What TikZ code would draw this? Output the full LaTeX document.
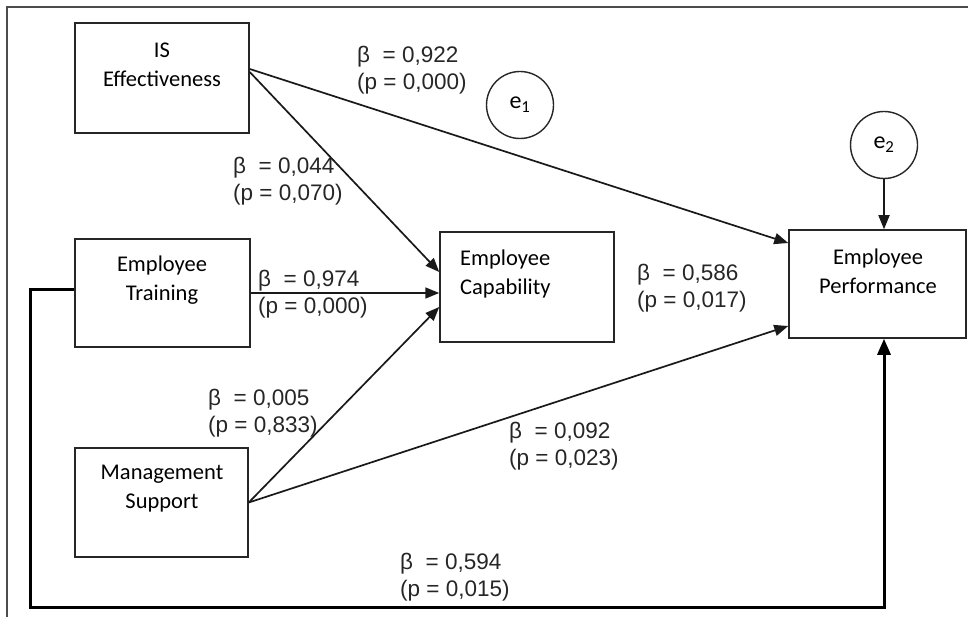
\documentclass[tikz,border=0pt]{standalone}
\usepackage{fontspec}
\setmainfont{Liberation Sans}
\newfontfamily\boxfont{Carlito}
\usetikzlibrary{arrows.meta,calc}
\begin{document}
\begin{tikzpicture}[x=1pt,y=-1pt,
  box/.style={draw=black!85,line width=1.5pt,rectangle,inner sep=0pt},
  boxtext/.style={font=\boxfont\fontsize{22.5}{29}\selectfont,align=center,inner sep=0pt,text=black},
  lbl/.style={font=\fontsize{22.5}{27}\selectfont,align=left,inner sep=0pt,anchor=west,text=black!85},
  err/.style={draw=black!85,line width=1.4pt,circle,minimum size=67pt,inner sep=0pt,font=\boxfont\fontsize{24}{27}\selectfont},
  conn/.style={draw=black!90,line width=1.7pt,-{Triangle[length=14pt,width=11pt]}},
  thick conn/.style={draw=black,line width=3pt,-{Triangle[length=16pt,width=13pt]}},
  frame/.style={draw=black!70,line width=1.6pt}]
\useasboundingbox (0,0) rectangle (968,617);
% outer frame
\coordinate (f1) at (7,617);
\coordinate (f2) at (7,7);
\coordinate (f3) at (968,7);
\draw[frame] (f1) -- (f2) -- (f3);
% boxes
\node[box,minimum width=174pt,minimum height=110pt] (IS) at (162,78) {};
\node[box,minimum width=175pt,minimum height=108pt] (ET) at (162.5,293) {};
\node[box,minimum width=173pt,minimum height=109pt] (MS) at (161.5,502.5) {};
\node[box,minimum width=174pt,minimum height=110pt] (EC) at (527,287) {};
\node[box,minimum width=177pt,minimum height=108pt] (EP) at (877.5,284) {};
% box texts
\node[boxtext] (tIS) at (162,65) {IS\\Effectiveness};
\node[boxtext] (tET) at (162,280.5) {Employee\\Training};
\node[boxtext] (tMS) at (162,489) {Management\\Support};
\node[boxtext,align=left,anchor=west] (tEC) at (460,274) {Employee\\Capability};
\node[boxtext] (tEP) at (878,271) {Employee\\Performance};
% error terms
\node[err] (e1) at (520,105) {e\textsubscript{1}};
\node[err] (e2) at (884,145) {e\textsubscript{2}};
% connectors
\draw[conn] ([yshift=9pt]IS.east) -- ([yshift=41pt]EP.west);
\draw[conn] ([yshift=6pt]IS.east) -- ([yshift=15pt]EC.west);
\draw[conn] (ET.east) -- (ET.east -| EC.west);
\draw[conn] (MS.east) -- ([yshift=-20pt]EC.west);
\draw[conn] (MS.east) -- ([yshift=-42pt]EP.west);
\draw[conn] (e2.south) -- (e2.south |- EP.north);
\coordinate (c1) at (30,607);
\draw[thick conn] ([yshift=3pt]ET.west) -| (c1) -| (e2 |- EP.south);
% labels
\node[lbl] (l1) at (357,70) {β\ \ = 0,922\\(p = 0,000)};
\node[lbl] (l2) at (233,181.5) {β\ \ = 0,044\\(p = 0,070)};
\node[lbl] (l3) at (258,294) {β\ \ = 0,974\\(p = 0,000)};
\node[lbl] (l4) at (208,413) {β\ \ = 0,005\\(p = 0,833)};
\node[lbl] (l5) at (637,288) {β\ \ = 0,586\\(p = 0,017)};
\node[lbl] (l6) at (509,446.5) {β\ \ = 0,092\\(p = 0,023)};
\node[lbl] (l7) at (400,577) {β\ \ = 0,594\\(p = 0,015)};
\end{tikzpicture}
\end{document}
